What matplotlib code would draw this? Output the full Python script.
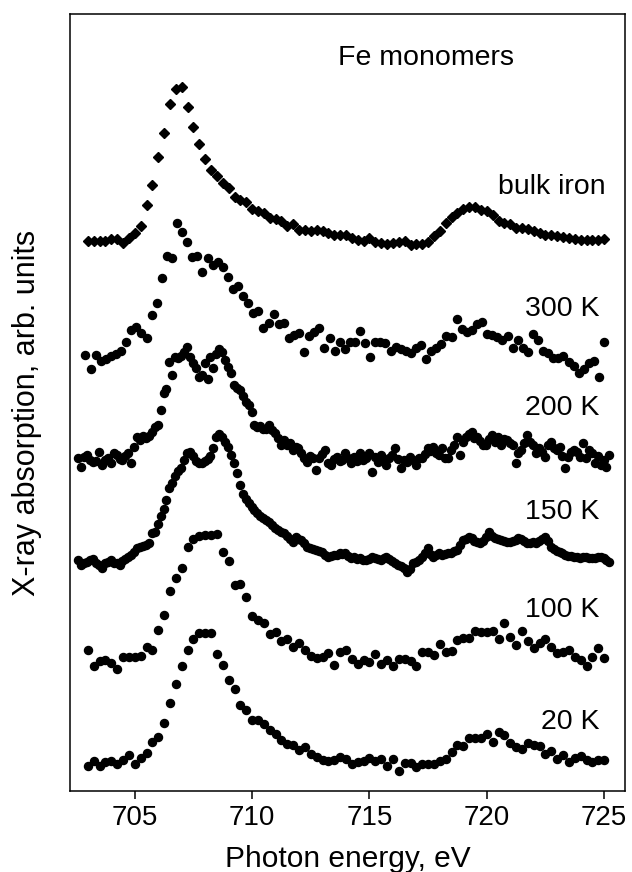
import numpy as np
import matplotlib
matplotlib.use("Agg")
import matplotlib.pyplot as plt

plt.rcParams['font.family'] = ['Liberation Sans', 'DejaVu Sans']

# spectra, intensity above pre-edge level (arb. units)
bulk_iron = [0, 0, 0, 0, 2, 2, -2, 3, 8, 15,
             36, 56, 84, 108, 137, 152, 154, 134, 114, 97,
             82, 71, 65, 58, 53, 44, 41, 39, 32, 30,
             28, 23, 22, 20, 15, 17, 11, 11, 10, 11,
             10, 8, 6, 6, 6, 3, 1, 0, 3, -1,
             -2, -3, -2, -1, 0, -4, -3, -3, -1, 5,
             10, 18, 24, 28, 32, 34, 34, 31, 30, 26,
             20, 18, 17, 13, 13, 12, 10, 8, 6, 6,
             5, 4, 3, 2, 1, 1, 1, 1, 2]

t300 = [0, -14, 0, -6, -4, -1, 1, 4, 13, 25,
        28, 22, 17, 40, 52, 77, 99, 97, 132, 123,
        113, 98, 99, 83, 97, 90, 93, 88, 78, 66,
        69, 59, 52, 42, 44, 27, 32, 41, 31, 32,
        17, 20, 22, 3, 19, 23, 27, 7, 17, 4,
        13, 6, 13, 13, 24, 12, -2, 13, 13, 12,
        4, 8, 6, 4, 2, 7, 10, -4, 4, 7,
        11, 19, 18, 36, 26, 23, 25, 31, 33, 21,
        20, 18, 15, 19, 7, 15, 7, 3, 21, 15,
        4, 2, -3, -3, -1, -7, -11, -18, -14, -8,
        -6, -22, 13]

t200 = [4, -5, 5, 7, 2, 0, 1, 10,
        -3, 2, 4, -1, 9, 7, 3, 2,
        6, 9, -1, 15, 25, 22, 26, 24,
        26, 30, 35, 37, 52, 69, 73, 100,
        87, 105, 104, 106, 110, 115, 105, 99,
        94, 85, 87, 99, 83, 105, 94, 108,
        113, 110, 102, 95, 89, 77, 74, 72,
        66, 60, 57, 50, 37, 35, 36, 33,
        33, 37, 32, 29, 24, 17, 22, 17,
        19, 12, 15, 14, 9, 4, 0, 6,
        4, -8, 4, 8, 12, -1, -3, 3,
        5, 1, 2, 9, 4, -1, 5, 1,
        9, 2, 4, 9, -10, 5, 0, 7,
        2, -3, 4, 7, 14, 3, -6, 2,
        0, 5, 2, -3, 4, 4, 8, 14,
        11, 15, 9, 7, 14, 4, 4, 12,
        17, 25, 7, 20, 25, 28, 30, 24,
        25, 21, 17, 17, 23, 27, 20, 25,
        17, 23, 22, 19, 17, -1, 9, 12,
        19, 27, 20, 17, 9, 14, 10, 5,
        17, 20, 14, 12, 15, 6, -6, 5,
        10, 12, 10, 5, 19, 4, 12, 9,
        -1, 6, -3, 2, -5, 7]

t150 = [3, -2, 0, 1, 3, 4, 0, -2,
        -5, 0, 1, 3, 0, 0, -2, 2,
        4, 6, 8, 11, 15, 16, 17, 18,
        20, 30, 31, 39, 47, 54, 63, 75,
        80, 87, 92, 95, 103, 110, 111, 107,
        102, 100, 100, 102, 104, 107, 115, 126,
        129, 126, 121, 116, 108, 100, 90, 78,
        69, 64, 60, 56, 53, 50, 47, 45,
        43, 41, 38, 35, 33, 31, 30, 27,
        24, 21, 26, 24, 23, 20, 16, 15,
        14, 13, 12, 11, 8, 6, 7, 8,
        8, 10, 9, 10, 7, 5, 6, 4,
        5, 3, 3, 4, 6, 5, 4, 3,
        5, 6, 4, 2, 0, -2, -3, -5,
        -9, -6, 0, 1, 3, 6, 10, 15,
        9, 6, 8, 10, 8, 9, 10, 10,
        12, 13, 18, 23, 24, 26, 25, 22,
        21, 20, 22, 26, 31, 27, 25, 24,
        23, 22, 21, 21, 22, 23, 25, 24,
        22, 20, 20, 21, 20, 22, 24, 26,
        22, 16, 14, 12, 11, 10, 8, 7,
        7, 6, 6, 5, 6, 6, 5, 5,
        5, 6, 6, 5, 3, 1]

t100 = [8, -8, -3, -2, -5, -11, 1, 1, 1, 2,
        11, 8, 28, 43, 67, 80, 90, 111, 119, 122,
        123, 123, 124, 106, 97, 73, 74, 61, 42, 38,
        35, 24, 26, 17, 19, 11, 15, 8, 2, 0,
        1, 5, -7, 6, 8, -1, -6, -2, -4, 4,
        -6, -2, -8, -1, -1, -3, -8, 6, 6, 3,
        14, 6, 7, 18, 20, 20, 27, 26, 26, 27,
        19, 35, 21, 13, 27, 17, 10, 15, 19, 11,
        5, 6, 8, 1, -2, -8, 1, 10, 0]

t20 = [-4, 1, -4, 0, 1, -2, 2, 7, -2, 4,
       9, 20, 25, 39, 59, 78, 96, 112, 123, 129,
       129, 129, 108, 97, 82, 73, 57, 52, 42, 42,
       38, 32, 28, 22, 18, 17, 12, 15, 8, 5,
       2, 1, 2, 5, 3, -2, 0, 1, 4, 1,
       3, -4, 3, -9, -1, -1, -5, -2, -2, -2,
       1, 3, 10, 17, 16, 24, 24, 24, 28, 20,
       30, 27, 19, 15, 13, 19, 17, 16, 8, 11,
       3, 7, 0, 4, 6, 2, 0, 2, 2]

# energy ranges of each scan (eV) and vertical offsets of the stack
e_ranges = {'bulk': (703.0, 725.0), '300': (702.9, 725.0), '200': (702.6, 725.225),
            '150': (702.6, 725.225), '100': (703.0, 725.0), '20': (703.0, 725.0)}
offsets = {'bulk': 550, '300': 436, '200': 329, '150': 228, '100': 133, '20': 29}
labels = {'bulk': 'bulk iron', '300': '300 K', '200': '200 K',
          '150': '150 K', '100': '100 K', '20': '20 K'}
series = {'bulk': bulk_iron, '300': t300, '200': t200, '150': t150, '100': t100, '20': t20}

fig = plt.figure(figsize=(6.32, 8.72), dpi=100)
ax = fig.add_axes([70 / 632, 81 / 872, 555 / 632, 777 / 872])

for key, vals in series.items():
    vals = np.array(vals, dtype=float)
    e = np.linspace(e_ranges[key][0], e_ranges[key][1], len(vals))
    if key == 'bulk':
        ax.plot(e, vals + offsets[key], ls='none', marker='D', ms=4.8, color='black')
    else:
        ax.plot(e, vals + offsets[key], ls='none', marker='o', ms=5.8, color='black')

# curve labels
label_y = {'bulk': 604, '300': 482, '200': 383, '150': 279, '100': 181, '20': 69}
for key in series:
    ax.text(725.05 if key == 'bulk' else 724.8, label_y[key], labels[key],
            ha='right', va='center', fontsize=20.5)
ax.text(717.4, 733, 'Fe monomers', ha='center', va='center', fontsize=20.5)

ax.set_xlim(702.24, 725.89)
ax.set_ylim(0, 777)
ax.set_xticks([705, 710, 715, 720, 725])
ax.set_yticks([])
ax.tick_params(axis='x', direction='out', length=6, width=1.1, labelsize=20, pad=4)
for s in ax.spines.values():
    s.set_linewidth(1.1)

ax.set_xlabel('Photon energy, eV', fontsize=21.5, labelpad=10)
ax.set_ylabel('X-ray absorption, arb. units', fontsize=22)
ax.yaxis.set_label_coords(-0.05, 0.487)

fig.savefig('out.png', dpi=100)
